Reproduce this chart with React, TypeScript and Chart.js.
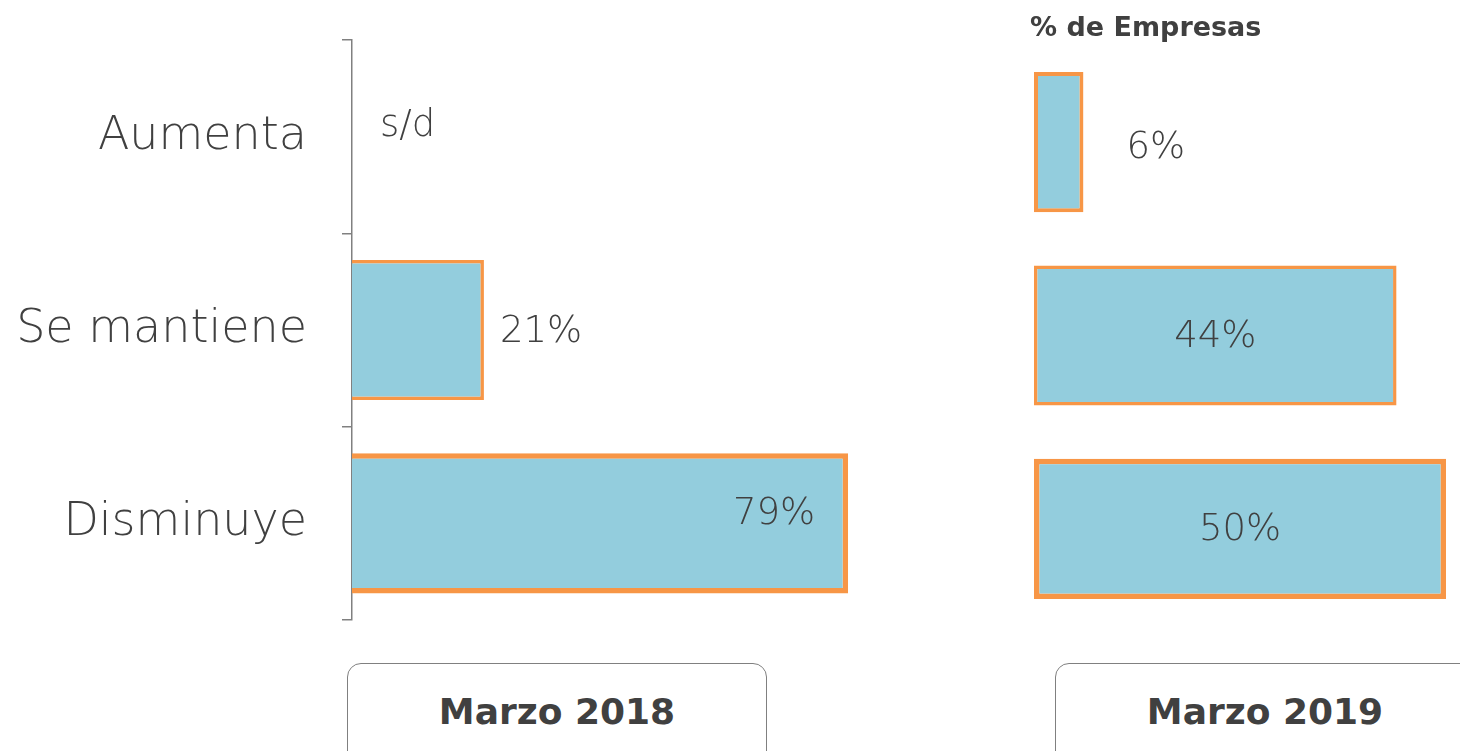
import React, { useEffect, useRef } from "react";
import { Chart, registerables } from "chart.js";

Chart.register(...registerables);

// ---- data ----
const categories = ["Aumenta", "Se mantiene", "Disminuye"];
const values2018: (number | null)[] = [null, 21, 79];
const values2019: (number | null)[] = [6, 44, 50];
const periodLabels = ["Marzo 2018", "Marzo 2019"];
const unitTitle = "% de Empresas";
const missingLabel = "s/d";

// ---- styles ----
const FONT = "'DejaVu Sans', sans-serif";
const TEXT = "#404040";
const FILL = "#93CDDD";
const ORANGE = "#F79646";
const AXIS = "#808080";

type Place = { mode: "start" | "outside" | "insideEnd" | "center"; dx: number; dy: number };
const place2018: Place[] = [
  { mode: "start", dx: 28, dy: -10 },
  { mode: "outside", dx: 16, dy: 2 },
  { mode: "insideEnd", dx: -33, dy: -9 },
];
const place2019: Place[] = [
  { mode: "outside", dx: 43, dy: 6.5 },
  { mode: "center", dx: 0, dy: 2 },
  { mode: "center", dx: 0, dy: 1.5 },
];

const valueLabelPlugin = {
  id: "valueLabels",
  afterDatasetsDraw(chart: any, _args: any, opts: any) {
    const { ctx } = chart;
    const xs = chart.scales.x;
    const ys = chart.scales.y;
    const data = chart.data.datasets[0].data as (number | null)[];
    ctx.save();
    ctx.font = opts.font;
    ctx.fillStyle = opts.color;
    ctx.textBaseline = "middle";
    data.forEach((v, i) => {
      const p: Place = opts.placements[i];
      const x0 = xs.getPixelForValue(0);
      const xv = xs.getPixelForValue(v ?? 0);
      const y = ys.getPixelForValue(i) + p.dy;
      const text = v == null ? missingLabel : `${v}%`;
      let x = xv;
      let align: CanvasTextAlign = "left";
      if (p.mode === "start") { x = x0 + p.dx; align = "left"; }
      else if (p.mode === "outside") { x = xv + p.dx; align = "left"; }
      else if (p.mode === "insideEnd") { x = xv + p.dx; align = "right"; }
      else { x = (x0 + xv) / 2 + p.dx; align = "center"; }
      ctx.textAlign = align;
      ctx.fillText(text, x, y);
    });
    ctx.restore();
  },
};

function LeftChart() {
  const ref = useRef<HTMLCanvasElement>(null);
  useEffect(() => {
    const chart = new Chart(ref.current!, {
      type: "bar",
      data: {
        labels: categories,
        datasets: [
          {
            data: values2018 as any,
            backgroundColor: FILL,
            borderColor: ORANGE,
            borderWidth: [0, 3.5, 5.5] as any,
            borderSkipped: "start",
            barPercentage: 0.725,
            categoryPercentage: 1,
          },
        ],
      },
      plugins: [valueLabelPlugin],
      options: {
        indexAxis: "y",
        responsive: false,
        animation: false,
        layout: { padding: { top: 40, bottom: 20, right: 20, left: 0 } },
        plugins: {
          legend: { display: false },
          tooltip: { enabled: false },
          valueLabels: { font: `300 37px ${FONT}`, color: TEXT, placements: place2018 },
        } as any,
        scales: {
          x: { display: false, min: 0, max: 100 },
          y: {
            afterFit: (s: any) => {
              s.width = 352;
              s.paddingTop = 0;
              s.paddingBottom = 0;
            },
            grid: { drawOnChartArea: false, tickLength: 10, color: AXIS, lineWidth: 1.5, offset: true },
            border: { display: true, color: AXIS, width: 1.5 },
            ticks: { padding: 35, color: TEXT, font: { family: FONT, size: 46, weight: 300 } },
          } as any,
        },
      },
    });
    return () => chart.destroy();
  }, []);
  return (
    <canvas
      ref={ref}
      width={1000}
      height={640}
      style={{ position: "absolute", left: 0, top: 0, width: 1000, height: 640 }}
    />
  );
}

function RightChart() {
  const ref = useRef<HTMLCanvasElement>(null);
  useEffect(() => {
    const chart = new Chart(ref.current!, {
      type: "bar",
      data: {
        labels: categories,
        datasets: [
          {
            data: values2019 as any,
            backgroundColor: FILL,
            borderColor: ORANGE,
            borderWidth: [4, 3.5, 5.5] as any,
            borderSkipped: false,
            barPercentage: 0.725,
            categoryPercentage: 1,
          },
        ],
      },
      plugins: [valueLabelPlugin],
      options: {
        indexAxis: "y",
        responsive: false,
        animation: false,
        layout: { padding: { top: 45.5, bottom: 14.5, right: 0, left: 34 } },
        plugins: {
          legend: { display: false },
          tooltip: { enabled: false },
          valueLabels: { font: `300 37px ${FONT}`, color: TEXT, placements: place2019 },
        } as any,
        scales: {
          x: { display: false, min: 0, max: 51.7 },
          y: { display: false },
        },
      },
    });
    return () => chart.destroy();
  }, []);
  return (
    <canvas
      ref={ref}
      width={460}
      height={640}
      style={{ position: "absolute", left: 1000, top: 0, width: 460, height: 640 }}
    />
  );
}

function PeriodBox({ left, text }: { left: number; text: string }) {
  return (
    <div
      style={{
        position: "absolute",
        left,
        top: 663,
        width: 420,
        height: 110,
        boxSizing: "border-box",
        border: `1.5px solid ${AXIS}`,
        borderRadius: 14,
        background: "#fff",
      }}
    >
      <div
        style={{
          position: "absolute",
          left: 0,
          right: 0,
          top: 30,
          textAlign: "center",
          fontFamily: FONT,
          fontWeight: "bold",
          fontSize: 36,
          lineHeight: "36px",
          color: TEXT,
          whiteSpace: "nowrap",
        }}
      >
        {text}
      </div>
    </div>
  );
}

export default function App() {
  return (
    <div
      style={{
        position: "absolute",
        left: 0,
        top: 0,
        width: 1460,
        height: 751,
        overflow: "hidden",
        background: "#fff",
      }}
    >
      <LeftChart />
      <RightChart />
      <div
        style={{
          position: "absolute",
          left: 1030,
          top: 13,
          fontFamily: FONT,
          fontWeight: "bold",
          fontSize: 27,
          lineHeight: "27px",
          color: TEXT,
          whiteSpace: "nowrap",
        }}
      >
        {unitTitle}
      </div>
      <PeriodBox left={347} text={periodLabels[0]} />
      <PeriodBox left={1055} text={periodLabels[1]} />
    </div>
  );
}
